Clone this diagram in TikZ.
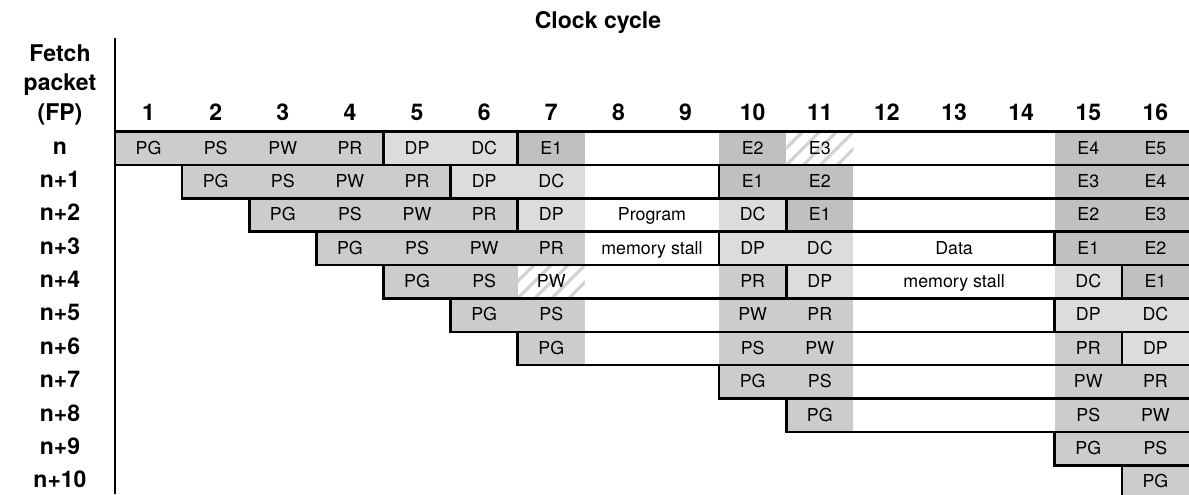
\documentclass[tikz,border=0pt]{standalone}
\usepackage{fontspec}
\setmainfont{TeX Gyre Heros}
\usepackage{tikz}
\usetikzlibrary{positioning, calc}

\definecolor{fetchgray}{HTML}{CCCCCC}
\definecolor{decodegray}{HTML}{DCDCDC}
\definecolor{execgray}{HTML}{C0C0C0}
\definecolor{hatchgray}{HTML}{D2D2D2}

\begin{document}
\begin{tikzpicture}[
  x=0.5pt, y=-0.5pt,
  hdr/.style={font=\fontsize{11.5}{14}\selectfont\bfseries, inner sep=0pt, anchor=base},
  lbl/.style={font=\fontsize{8.9}{10}\selectfont, inner sep=0pt, anchor=base},
  f/.style={fill=fetchgray},
  d/.style={fill=decodegray},
  e/.style={fill=execgray},
  h/.style={fill=white},
  rule/.style={black, line width=1.3pt},
  stripe/.style={hatchgray, line width=1.6pt},
]
\useasboundingbox (0,0) rectangle (1189,494);
\pgfmathsetmacro{\XO}{115}     % left edge of cycle 1
\pgfmathsetmacro{\CW}{67.125}  % width of one cycle
\pgfmathsetmacro{\YO}{131.7}   % top of row n
\pgfmathsetmacro{\RH}{33.35}   % row height

% Headings
\node[hdr] (cyc) at (598,28) {Clock cycle};
\node[hdr] (fp1) at (60,61) {Fetch};
\node[hdr] (fp2) at (60,90.5) {packet};
\node[hdr] (fp3) at (60,120) {(FP)};
\foreach \i in {1,...,16} {
  \node[hdr] (num\i) at ({\XO+(\i-0.5)*\CW},120) {\i};
}
\foreach \rw/\tx in {0/n,1/n+1,2/n+2,3/n+3,4/n+4,5/n+5,6/n+6,7/n+7,8/n+8,9/n+9,10/n+10} {
  \node[hdr] (row\rw) at (60,{\YO+\rw*\RH+22.5}) {\tx};
}

% Pipeline phases, one cell per cycle
\foreach \rw/\cl/\kd/\tx in {
  0/1/f/PG, 0/2/f/PS, 0/3/f/PW, 0/4/f/PR, 0/5/d/DP, 0/6/d/DC, 0/7/e/E1, 0/10/e/E2, 0/11/h/E3, 0/15/e/E4, 0/16/e/E5,
  1/2/f/PG, 1/3/f/PS, 1/4/f/PW, 1/5/f/PR, 1/6/d/DP, 1/7/d/DC, 1/10/e/E1, 1/11/e/E2, 1/15/e/E3, 1/16/e/E4,
  2/3/f/PG, 2/4/f/PS, 2/5/f/PW, 2/6/f/PR, 2/7/d/DP, 2/10/d/DC, 2/11/e/E1, 2/15/e/E2, 2/16/e/E3,
  3/4/f/PG, 3/5/f/PS, 3/6/f/PW, 3/7/f/PR, 3/10/d/DP, 3/11/d/DC, 3/15/e/E1, 3/16/e/E2,
  4/5/f/PG, 4/6/f/PS, 4/7/h/PW, 4/10/f/PR, 4/11/d/DP, 4/15/d/DC, 4/16/e/E1,
  5/6/f/PG, 5/7/f/PS, 5/10/f/PW, 5/11/f/PR, 5/15/d/DP, 5/16/d/DC,
  6/7/f/PG, 6/10/f/PS, 6/11/f/PW, 6/15/f/PR, 6/16/d/DP,
  7/10/f/PG, 7/11/f/PS, 7/15/f/PW, 7/16/f/PR,
  8/11/f/PG, 8/15/f/PS, 8/16/f/PW,
  9/15/f/PG, 9/16/f/PS,
  10/16/f/PG} {
  \fill[\kd] ({\XO+(\cl-1)*\CW},{\YO+\rw*\RH}) rectangle ({\XO+\cl*\CW},{\YO+(\rw+1)*\RH});
}

% Hatched cells
\foreach \rw/\cl in {0/11, 4/7} {
  \begin{scope}
    \clip ({\XO+(\cl-1)*\CW},{\YO+\rw*\RH}) rectangle ({\XO+\cl*\CW},{\YO+(\rw+1)*\RH});
    \foreach \i in {-3,...,4} {
      \draw[stripe] ({\XO+(\cl-1)*\CW+\i*17},{\YO+(\rw+1)*\RH}) -- ++(\RH,-\RH);
    }
  \end{scope}
}

% Cell labels
\foreach \rw/\cl/\tx in {
  0/1/PG, 0/2/PS, 0/3/PW, 0/4/PR, 0/5/DP, 0/6/DC, 0/7/E1, 0/10/E2, 0/11/E3, 0/15/E4, 0/16/E5,
  1/2/PG, 1/3/PS, 1/4/PW, 1/5/PR, 1/6/DP, 1/7/DC, 1/10/E1, 1/11/E2, 1/15/E3, 1/16/E4,
  2/3/PG, 2/4/PS, 2/5/PW, 2/6/PR, 2/7/DP, 2/10/DC, 2/11/E1, 2/15/E2, 2/16/E3,
  3/4/PG, 3/5/PS, 3/6/PW, 3/7/PR, 3/10/DP, 3/11/DC, 3/15/E1, 3/16/E2,
  4/5/PG, 4/6/PS, 4/7/PW, 4/10/PR, 4/11/DP, 4/15/DC, 4/16/E1,
  5/6/PG, 5/7/PS, 5/10/PW, 5/11/PR, 5/15/DP, 5/16/DC,
  6/7/PG, 6/10/PS, 6/11/PW, 6/15/PR, 6/16/DP,
  7/10/PG, 7/11/PS, 7/15/PW, 7/16/PR,
  8/11/PG, 8/15/PS, 8/16/PW,
  9/15/PG, 9/16/PS,
  10/16/PG} {
  \node[lbl] (c\rw-\cl) at ({\XO+(\cl-0.5)*\CW},{\YO+\rw*\RH+22.5}) {\tx};
}

% Stall notes
\node[lbl] (pstall1) at ({\XO+8*\CW},{\YO+2*\RH+22.5}) {Program};
\node[lbl] (pstall2) at ({\XO+8*\CW},{\YO+3*\RH+22.5}) {memory stall};
\node[lbl] (dstall1) at ({\XO+12.5*\CW},{\YO+3*\RH+22.5}) {Data};
\node[lbl] (dstall2) at ({\XO+12.5*\CW},{\YO+4*\RH+22.5}) {memory stall};

% Axis and row frames
\draw[rule] (\XO,38) -- (\XO,494);
\draw[rule] (\XO,\YO) -- (1189,\YO);
\foreach \rw/\cl in {0/1,1/2,2/3,3/4,4/5,5/6,6/7,7/10,8/11,9/15,10/16} {
  \draw[rule] ({\XO+(\cl-1)*\CW},{\YO+\rw*\RH}) -- ({\XO+(\cl-1)*\CW},{\YO+(\rw+1)*\RH}) -- (1189,{\YO+(\rw+1)*\RH});
}

% Start of decode and execute
\foreach \rw/\cl in {0/5,0/7,1/6,1/10,2/7,2/11,3/10,3/15,4/11,4/16,5/15,6/16} {
  \draw[rule] ({\XO+(\cl-1)*\CW},{\YO+\rw*\RH}) -- ({\XO+(\cl-1)*\CW},{\YO+(\rw+1)*\RH});
}
\end{tikzpicture}
\end{document}
